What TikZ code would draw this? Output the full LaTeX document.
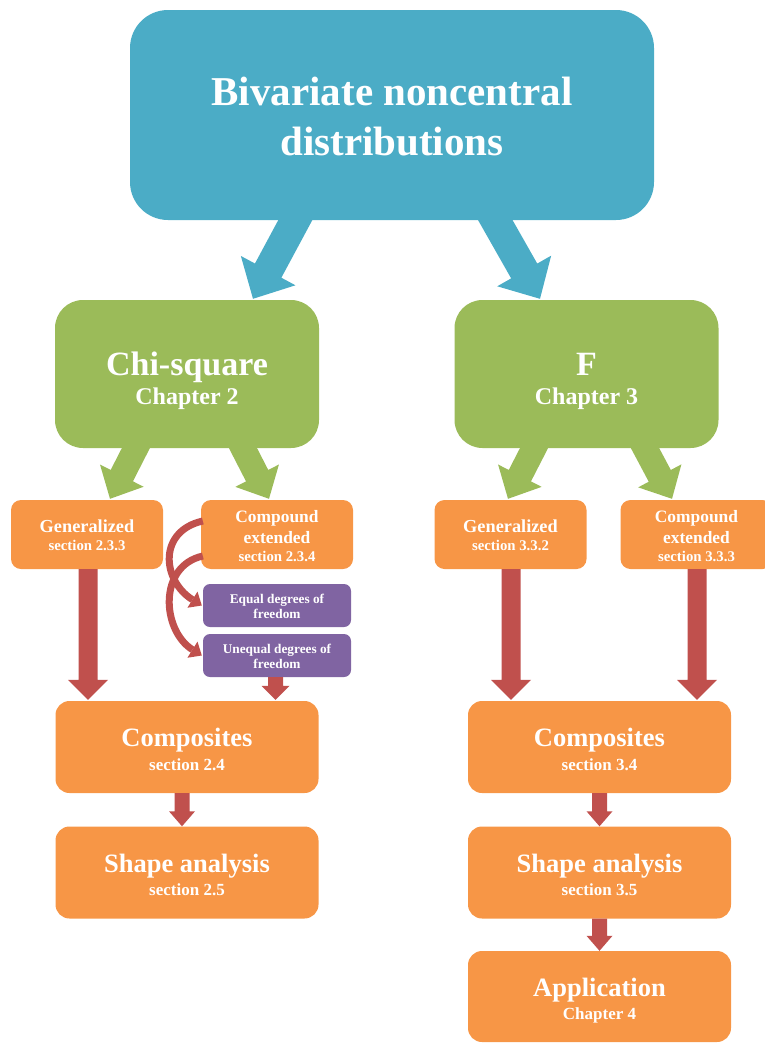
\documentclass[tikz,border=0pt]{standalone}
\usepackage{fontspec}
\setmainfont{Liberation Serif}
\usetikzlibrary{calc,arrows.meta}
\definecolor{cblue}{HTML}{4BACC6}
\definecolor{cgreen}{HTML}{9BBB59}
\definecolor{corange}{HTML}{F79646}
\definecolor{cpurple}{HTML}{8064A2}
\definecolor{cred}{HTML}{C0504D}
% #1 style, #2 start, #3 tip, #4 shaft half width, #5 head half width, #6 head length
\newcommand\blockarrow[6]{%
  \path ($(#3)!#6!(#2)$) coordinate (bahead);
  \fill[#1] ($(#2)!#4!90:(#3)$) -- ($(bahead)!#4!90:(#3)$) -- ($(bahead)!#5!90:(#3)$)
    -- (#3) -- ($(bahead)!#5!-90:(#3)$) -- ($(bahead)!#4!-90:(#3)$) -- ($(#2)!#4!-90:(#3)$) -- cycle;}
% invisible strut: height #1 above baseline, depth #2 below
\newcommand\tstrut[2]{\rule[-#2]{0pt}{\dimexpr#1+#2\relax}}
\begin{document}
\begin{tikzpicture}[x=1pt,y=-1pt,
  box/.style={rectangle, text=white, align=center, inner sep=0pt},
  bigbox/.style={box, fill=cgreen, rounded corners=28pt, minimum width=264pt, minimum height=148pt,
     font=\bfseries\fontsize{24}{29}\selectfont},
  smallbox/.style={box, fill=corange, rounded corners=10pt, minimum width=152pt, minimum height=69pt,
     font=\bfseries\fontsize{14.8}{18}\selectfont},
  purplebox/.style={box, fill=cpurple, rounded corners=7pt, minimum width=148pt, minimum height=43pt,
     font=\bfseries\fontsize{13.3}{15}\selectfont},
  midbox/.style={box, fill=corange, rounded corners=14pt, minimum width=263pt, minimum height=92pt,
     font=\bfseries\fontsize{17}{23.3}\selectfont},
  curvearrow/.style={draw=cred, line width=7pt, -{Triangle[length=11pt,width=19pt,line width=0pt]}}
]
\useasboundingbox (0,0) rectangle (765,1044);
\clip (0,0) rectangle (765,1044);

% main nodes
\node[box, fill=cblue, rounded corners=38pt, minimum width=524pt, minimum height=210pt,
  font=\bfseries\fontsize{41}{50}\selectfont] (top) at (392,115)
  {\tstrut{40pt}{0pt}Bivariate noncentral\\distributions\tstrut{0pt}{10pt}};
\node[bigbox] (chi) at (187,374)
  {\tstrut{37pt}{0pt}{\fontsize{34}{34}\selectfont Chi-square}\\Chapter 2\tstrut{0pt}{6pt}};
\node[bigbox] (F) at (586.5,374)
  {\tstrut{37pt}{0pt}{\fontsize{34}{34}\selectfont F}\\Chapter 3\tstrut{0pt}{6pt}};

\node[smallbox] (genL) at (87,534.5)
  {\tstrut{17pt}{0pt}{\fontsize{18.3}{18}\selectfont Generalized}\\section 2.3.3\tstrut{0pt}{4pt}};
\node[smallbox, font=\bfseries\fontsize{14.8}{21}\selectfont] (compL) at (277,534.5)
  {\tstrut{18pt}{0pt}{\fontsize{17.4}{18}\selectfont Compound}\\{\fontsize{17.4}{18}\selectfont extended}\\[-3pt]section 2.3.4\tstrut{0pt}{4pt}};
\node[smallbox] (genR) at (510.5,534.5)
  {\tstrut{17pt}{0pt}{\fontsize{18.3}{18}\selectfont Generalized}\\section 3.3.2\tstrut{0pt}{4pt}};
\node[smallbox, font=\bfseries\fontsize{14.8}{21}\selectfont] (compR) at (696.5,534.5)
  {\tstrut{18pt}{0pt}{\fontsize{17.4}{18}\selectfont Compound}\\{\fontsize{17.4}{18}\selectfont extended}\\[-3pt]section 3.3.3\tstrut{0pt}{4pt}};

\node[purplebox] (eq) at (277,605.5) {\tstrut{14pt}{0pt}Equal degrees of\\freedom\tstrut{0pt}{4pt}};
\node[purplebox] (uneq) at (277,655.5) {\tstrut{14pt}{0pt}Unequal degrees of\\freedom\tstrut{0pt}{4pt}};

\node[midbox] (compoL) at (187,747)
  {\tstrut{26.7pt}{0pt}{\fontsize{26.5}{26}\selectfont Composites}\\section 2.4\tstrut{0pt}{4pt}};
\node[midbox] (shapeL) at (187,872.5)
  {\tstrut{26.7pt}{0pt}{\fontsize{26.5}{26}\selectfont Shape analysis}\\section 2.5\tstrut{0pt}{4pt}};
\node[midbox] (compoR) at (599.5,747)
  {\tstrut{26.7pt}{0pt}{\fontsize{26.5}{26}\selectfont Composites}\\section 3.4\tstrut{0pt}{4pt}};
\node[midbox] (shapeR) at (599.5,872.5)
  {\tstrut{26.7pt}{0pt}{\fontsize{26.5}{26}\selectfont Shape analysis}\\section 3.5\tstrut{0pt}{4pt}};
\node[midbox, minimum height=91pt] (app) at (599.5,996.5)
  {\tstrut{26.7pt}{0pt}{\fontsize{26.5}{26}\selectfont Application}\\Chapter 4\tstrut{0pt}{4pt}};

% blue arrows
\coordinate (b1s) at ($(top.south)+(-86,-20)$);
\coordinate (b1e) at ($(chi.north)+(66,-1)$);
\coordinate (b2s) at ($(top.south)+(92,-20)$);
\coordinate (b2e) at ($(F.north)+(-46.5,-1)$);
\blockarrow{cblue}{b1s}{b1e}{15pt}{31pt}{32pt}
\blockarrow{cblue}{b2s}{b2e}{15pt}{31pt}{32pt}

% green arrows
\coordinate (g1s) at ($(chi.south)+(-42,-18)$);
\coordinate (g1e) at ($(genL.north)+(23,-1)$);
\coordinate (g2s) at ($(chi.south)+(46.8,-18)$);
\coordinate (g2e) at ($(compL.north)+(-8,-1)$);
\coordinate (g3s) at ($(F.south)+(-43.3,-18)$);
\coordinate (g3e) at ($(genR.north)+(-2.5,-1)$);
\coordinate (g4s) at ($(F.south)+(49,-18)$);
\coordinate (g4e) at ($(compR.north)+(-24.5,-1)$);
\blockarrow{cgreen}{g1s}{g1e}{12.5pt}{24.5pt}{26pt}
\blockarrow{cgreen}{g2s}{g2e}{12.5pt}{24.5pt}{26pt}
\blockarrow{cgreen}{g3s}{g3e}{12.5pt}{24.5pt}{26pt}
\blockarrow{cgreen}{g4s}{g4e}{12.5pt}{24.5pt}{26pt}

% red straight arrows
\coordinate (r1s) at ($(genL.south)+(1,0)$);
\coordinate (r1e) at ($(compoL.north)+(-99,-1)$);
\coordinate (r2s) at ($(uneq.south)+(-1.5,0)$);
\coordinate (r2e) at ($(compoL.north)+(88.5,-1)$);
\coordinate (r3s) at ($(genR.south)+(0.5,0)$);
\coordinate (r3e) at ($(compoR.north)+(-88.5,-1)$);
\coordinate (r4s) at ($(compR.south)+(0.5,0)$);
\coordinate (r4e) at ($(compoR.north)+(97.5,-1)$);
\coordinate (r5s) at ($(compoL.south)+(-5,0)$);
\coordinate (r5e) at ($(shapeL.north)+(-5,0)$);
\coordinate (r6s) at (compoR.south);
\coordinate (r6e) at (shapeR.north);
\coordinate (r7s) at (shapeR.south);
\coordinate (r7e) at (app.north);
\blockarrow{cred}{r1s}{r1e}{9.5pt}{20pt}{20pt}
\blockarrow{cred}{r2s}{r2e}{7.5pt}{14pt}{14pt}
\blockarrow{cred}{r3s}{r3e}{9.5pt}{20pt}{20pt}
\blockarrow{cred}{r4s}{r4e}{9.5pt}{20pt}{20pt}
\blockarrow{cred}{r5s}{r5e}{7.5pt}{13pt}{15pt}
\blockarrow{cred}{r6s}{r6e}{7.5pt}{13pt}{15pt}
\blockarrow{cred}{r7s}{r7e}{7.5pt}{13pt}{15pt}

% curved arrows
\draw[curvearrow] ($(compL.west)+(2,-13.5)$) .. controls +(-45,10) and +(-40,-25) .. ($(eq.west)+(-1,0)$);
\draw[curvearrow] ($(compL.west)+(2,21.5)$) .. controls +(-45,10) and +(-40,-25) .. ($(uneq.west)+(-1,0)$);
\end{tikzpicture}
\end{document}
